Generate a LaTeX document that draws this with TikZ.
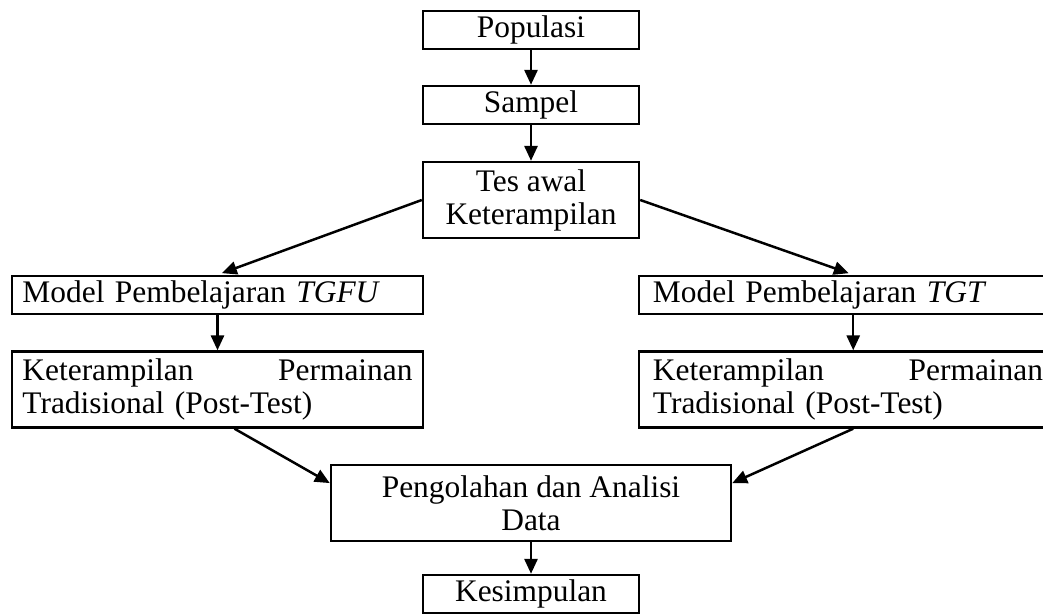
\documentclass[tikz,border=0pt]{standalone}
\usepackage{fontspec}
\setmainfont{Liberation Serif}
\usetikzlibrary{arrows.meta, positioning, calc}

\begin{document}
\begin{tikzpicture}[x=0.382pt, y=-0.382pt, line width=0.95pt,
  font=\fontsize{12}{12.6}\selectfont,
  box/.style={draw, inner sep=0pt, minimum width=82.5pt, minimum height=14.5pt, align=center},
  wide/.style={draw, inner xsep=4pt, inner ysep=0pt, text width=149pt, minimum height=14.5pt, align=left},
  arr/.style={-{Triangle[length=5.7pt, width=5pt]}}]

 \useasboundingbox (0,0) rectangle (1043,614);
 \clip (0,0) rectangle (1043,614);

 % Nodes
 \node[box] (pop) at (531,30) {Populasi};
 \node[box] (smp) at (531,105) {Sampel};
 \node[box, minimum height=29pt] (tes) at (531,200) {Tes awal\\Keterampilan};
 \node[wide] (tgfu) at (217.5,295) {Model Pembelajaran \textit{TGFU}};
 \node[wide, inner xsep=5.35pt] (tgt) at (848,295) {Model Pembelajaran \textit{TGT}};
 \node[wide, minimum height=29pt] (ketL) at (217.5,389.5) {Keterampilan\hfill Permainan\\Tradisional (Post-Test)};
 \node[wide, inner xsep=5.35pt, minimum height=29pt] (ketR) at (848,389.5) {Keterampilan\hfill Permainan\\Tradisional (Post-Test)};
 \node[box, minimum width=152.8pt, minimum height=29pt] (olah) at (531,503) {Pengolahan dan Analisi\\Data};
 \node[box] (simp) at (531,594) {Kesimpulan};

 % Arrows down the middle
 \draw[arr] (pop) -- (smp);
 \draw[arr] (smp) -- (tes);
 \draw[arr] (olah) -- (simp);

 % Arrows to the two models and back to the analysis
 \draw[arr, shorten >=1.8pt] (tes.west) -- (tgfu.north);
 \draw[arr, shorten >=1.8pt] (tes.east) -- ([xshift=2pt]tgt.north);
 \draw[arr] (tgfu) -- (ketL);
 \draw[arr] ([xshift=2pt]tgt.south) -- ([xshift=2pt]ketR.north);
 \draw[arr] ([xshift=6.5pt]ketL.south) -- ([yshift=7.6pt]olah.west);
 \draw[arr] ([xshift=2pt]ketR.south) -- ([yshift=7.6pt]olah.east);

\end{tikzpicture}
\end{document}
